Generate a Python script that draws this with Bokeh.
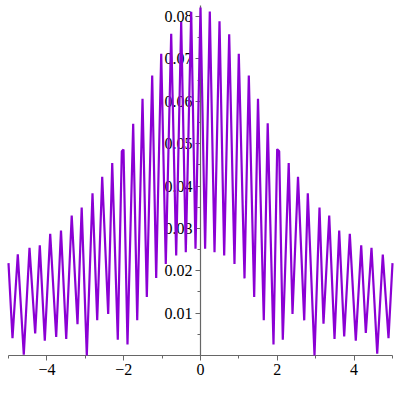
from bokeh.plotting import figure
from bokeh.models import LinearAxis, FixedTicker, Range1d
from bokeh.embed import file_html
from bokeh.resources import INLINE

# vertices of the curve (peaks and troughs)
xs = [-5.0, -4.896, -4.758, -4.602, -4.453, -4.305, -4.185, -4.055, -3.914, -3.758,
      -3.633, -3.497, -3.354, -3.203, -3.094, -2.961, -2.8125, -2.690, -2.560, -2.404,
      -2.299, -2.154, -2.049, -2.005, -1.901, -1.753, -1.648, -1.510, -1.398, -1.258,
      -1.154, -1.023, -0.904, -0.763, -0.633, -0.503, -0.383, -0.242, -0.130, 0.0,
      0.12, 0.242, 0.365, 0.495, 0.617, 0.747, 0.885, 0.997, 1.146, 1.258,
      1.398, 1.497, 1.648, 1.750, 1.901, 1.997, 2.049, 2.143, 2.297, 2.396,
      2.539, 2.701, 2.794, 2.969, 3.099, 3.203, 3.352, 3.490, 3.612, 3.742,
      3.888, 4.044, 4.185, 4.305, 4.453, 4.602, 4.747, 4.896, 5.0]
ys = [0.0218, 0.0041, 0.0239, 0.0002, 0.0254, 0.0052, 0.0260, 0.0035, 0.0287, 0.0044,
      0.0295, 0.0039, 0.0330, 0.0074, 0.0349, 0.0, 0.0383, 0.0083, 0.0422, 0.0098,
      0.0454, 0.0037, 0.0482, 0.0486, 0.0026, 0.0547, 0.0083, 0.0606, 0.0138, 0.0661,
      0.0183, 0.0712, 0.0216, 0.0759, 0.0236, 0.0787, 0.0244, 0.0811, 0.0252, 0.0821,
      0.0252, 0.0812, 0.0244, 0.0789, 0.0236, 0.0758, 0.0216, 0.0712, 0.0182, 0.0661,
      0.0138, 0.0606, 0.0083, 0.0548, 0.0026, 0.0487, 0.0482, 0.0037, 0.0454, 0.0098,
      0.0422, 0.0083, 0.0383, 0.0, 0.0349, 0.0075, 0.0330, 0.0039, 0.0295, 0.0045,
      0.0287, 0.0035, 0.0260, 0.0053, 0.0254, 0.0004, 0.0238, 0.0041, 0.0218]

x_ticks = [-4, -2, 0, 2, 4]
x_tick_labels = ["\u22124", "\u22122", "0", "2", "4"]
x_minor = [-5, -3, -1, 1, 3, 5]
y_ticks = [0.01, 0.02, 0.03, 0.04, 0.05, 0.06, 0.07, 0.08]
y_tick_labels = ["0.01", "0.02", "0.03", "0.04", "0.05", "0.06", "0.07", "0.08"]
y_minor = [0.005, 0.015, 0.025, 0.035, 0.045, 0.055, 0.065, 0.075]

p = figure(width=400, height=400, output_backend="svg", toolbar_location=None,
           x_axis_location=None, y_axis_location=None,
           x_range=Range1d(-5.2083, 5.2083), y_range=Range1d(-0.01062, 0.08378),
           min_border=0)
p.outline_line_color = None
p.xgrid.visible = False
p.ygrid.visible = False
p.background_fill_color = "white"
p.border_fill_color = "white"

axis_col = "#666666"
font = "Liberation Serif"

xaxis = LinearAxis(fixed_location=0, bounds=(-5, 5),
                   ticker=FixedTicker(ticks=x_ticks, minor_ticks=x_minor))
xaxis.major_label_overrides = {t: l for t, l in zip(x_ticks, x_tick_labels)}
yaxis = LinearAxis(fixed_location=0, bounds=(0, 0.0825),
                   ticker=FixedTicker(ticks=y_ticks, minor_ticks=y_minor))
yaxis.major_label_overrides = {t: l for t, l in zip(y_ticks, y_tick_labels)}

for ax in (xaxis, yaxis):
    ax.axis_line_color = axis_col
    ax.axis_line_width = 1.2
    ax.major_tick_line_color = axis_col
    ax.minor_tick_line_color = axis_col
    ax.major_tick_in = 0
    ax.major_tick_out = 5
    ax.minor_tick_in = 0
    ax.minor_tick_out = 3
    ax.major_label_text_font = font
    ax.major_label_text_font_size = "16px"
    ax.major_label_text_color = "black"
    ax.major_label_standoff = 3

p.add_layout(xaxis, "below")
p.add_layout(yaxis, "left")

p.line(xs, ys, line_color="#8B00D4", line_width=2.2, level="overlay")

open("out.html", "w").write(file_html(p, INLINE))
